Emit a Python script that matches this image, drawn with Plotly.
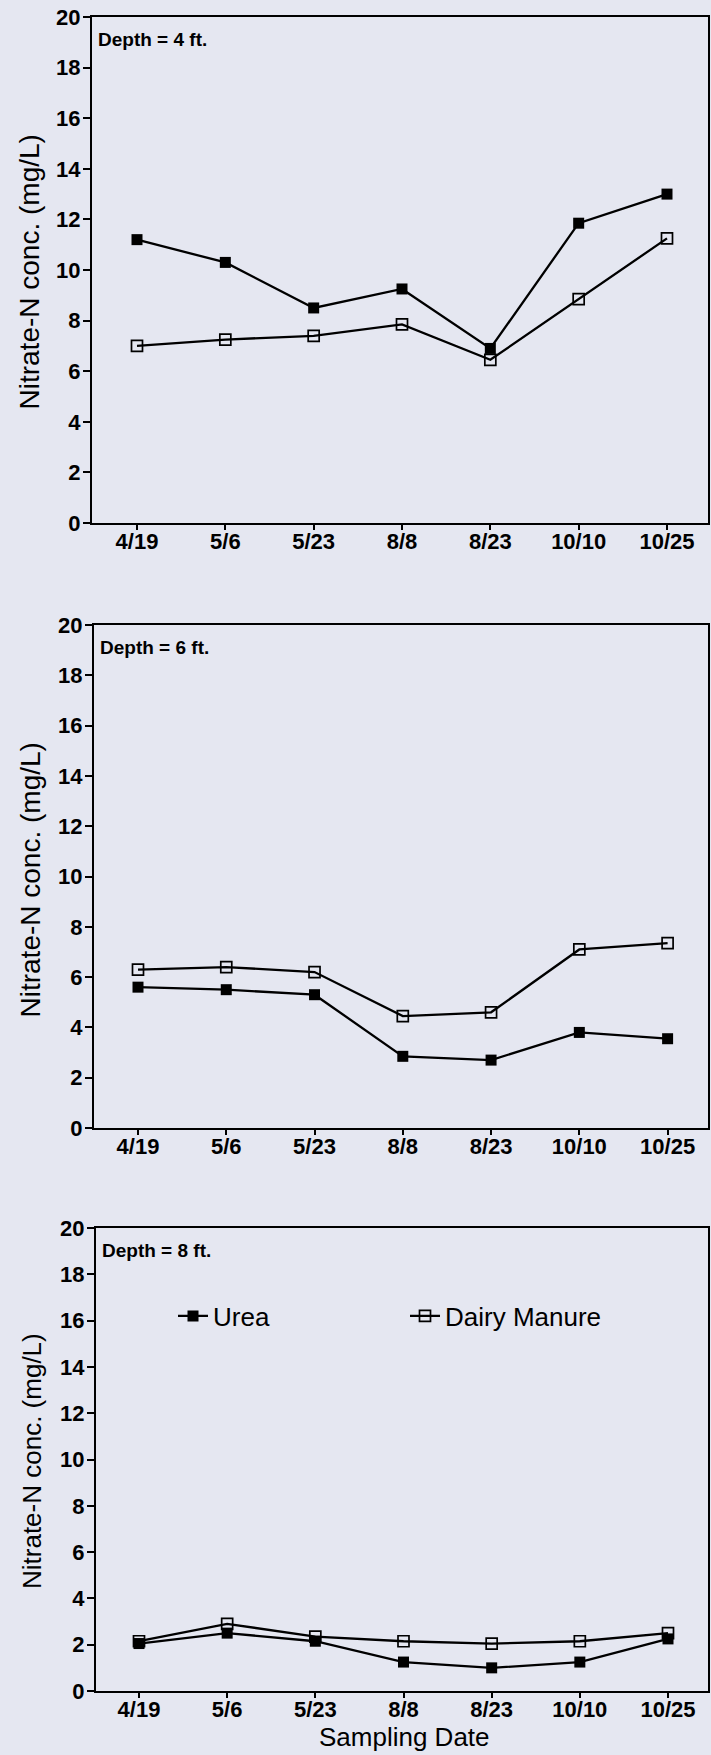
import plotly.graph_objects as go

# ---- data ----
dates = ["4/19", "5/6", "5/23", "8/8", "8/23", "10/10", "10/25"]
urea_4ft = [11.2, 10.3, 8.5, 9.25, 6.9, 11.85, 13.0]
manure_4ft = [7.0, 7.25, 7.4, 7.85, 6.45, 8.85, 11.25]
urea_6ft = [5.6, 5.5, 5.3, 2.85, 2.7, 3.8, 3.55]
manure_6ft = [6.3, 6.4, 6.2, 4.45, 4.6, 7.1, 7.35]
urea_8ft = [2.05, 2.5, 2.15, 1.25, 1.0, 1.25, 2.25]
manure_8ft = [2.15, 2.9, 2.35, 2.15, 2.05, 2.15, 2.5]
depth_labels = ["Depth = 4 ft.", "Depth = 6 ft.", "Depth = 8 ft."]
y_ticks = list(range(0, 21, 2))
y_title = "Nitrate-N conc. (mg/L)"
x_title = "Sampling Date"
series_names = ["Urea", "Dairy Manure"]

W, H = 711, 1755
FONT = "Liberation Sans, Arial, sans-serif"
BG = "#e5e7f1"

# layout geometry (pixels)
panels = [
    dict(urea=urea_4ft, manure=manure_4ft, top=17, bottom=523, left=92, t0=137, t6=667,
         tsize=28, tx=29.5, ty=272),
    dict(urea=urea_6ft, manure=manure_6ft, top=625, bottom=1128, left=94, t0=138, t6=667.6,
         tsize=28, tx=29.5, ty=880),
    dict(urea=urea_8ft, manure=manure_8ft, top=1228, bottom=1691, left=96, t0=139, t6=668,
         tsize=26, tx=32, ty=1461),
]
RIGHT = 708

fig = go.Figure()
annotations = []
layout = {}
for i, p in enumerate(panels):
    sfx = "" if i == 0 else str(i + 1)
    xref, yref = "x" + sfx, "y" + sfx
    last = i == len(panels) - 1
    fig.add_trace(go.Scatter(
        x=dates, y=p["urea"], xaxis=xref, yaxis=yref, mode="lines+markers",
        name=series_names[0], showlegend=last, legend="legend",
        line=dict(color="black", width=2.3),
        marker=dict(symbol="square", size=11, color="black"),
    ))
    fig.add_trace(go.Scatter(
        x=dates, y=p["manure"], xaxis=xref, yaxis=yref, mode="lines+markers",
        name=series_names[1], showlegend=last, legend="legend2",
        line=dict(color="black", width=2.3),
        marker=dict(symbol="square-open", size=11, color="black", line=dict(width=1.7)),
    ))
    unit = (p["t6"] - p["t0"]) / 6.0
    xr = [(p["left"] - p["t0"]) / unit, (RIGHT - p["t0"]) / unit]
    layout["xaxis" + sfx] = dict(
        domain=[p["left"] / W, RIGHT / W], anchor=yref, type="category",
        range=xr, showline=True, linecolor="black", linewidth=2, mirror=True,
        ticks="outside", ticklen=5, tickwidth=2, tickcolor="black",
        ticklabelstandoff=-7,
        tickfont=dict(family=FONT, size=22, color="black", weight="bold"),
        showgrid=False, zeroline=False, automargin=False, fixedrange=True,
    )
    layout["yaxis" + sfx] = dict(
        domain=[1 - p["bottom"] / H, 1 - p["top"] / H], anchor=xref,
        range=[0, 20], tickvals=y_ticks,
        showline=True, linecolor="black", linewidth=2, mirror=True,
        ticks="outside", ticklen=7, tickwidth=2, tickcolor="black",
        ticklabelstandoff=-2,
        tickfont=dict(family=FONT, size=22, color="black", weight="bold"),
        showgrid=False, zeroline=False, automargin=False, fixedrange=True,
    )
    annotations.append(dict(
        text=depth_labels[i], xref="paper", yref="paper",
        x=(p["left"] + 4) / W, y=1 - (p["top"] + 22) / H,
        xanchor="left", yanchor="middle", showarrow=False,
        font=dict(family=FONT, size=19, color="black", weight="bold"),
    ))
    annotations.append(dict(
        text=y_title, xref="paper", yref="paper", textangle=-90,
        x=p["tx"] / W, y=1 - p["ty"] / H, xanchor="center", yanchor="middle",
        showarrow=False, font=dict(family=FONT, size=p["tsize"], color="black"),
    ))

annotations.append(dict(
    text=x_title, xref="paper", yref="paper", x=404 / W, y=1 - 1737 / H,
    xanchor="center", yanchor="middle", showarrow=False,
    font=dict(family=FONT, size=26, color="black"),
))

leg_common = dict(orientation="h", yanchor="middle", xanchor="left",
                  bgcolor="rgba(0,0,0,0)", borderwidth=0,
                  font=dict(family=FONT, size=26, color="black"))
layout["legend"] = dict(x=(217 - 44) / W, y=1 - 1316 / H, **leg_common)
layout["legend2"] = dict(x=(449 - 44) / W, y=1 - 1316 / H, **leg_common)

fig.update_layout(
    width=W, height=H, margin=dict(l=0, r=0, t=0, b=0),
    paper_bgcolor=BG, plot_bgcolor=BG, annotations=annotations,
    **layout,
)
fig.write_html("out.html", config={"displayModeBar": False})
